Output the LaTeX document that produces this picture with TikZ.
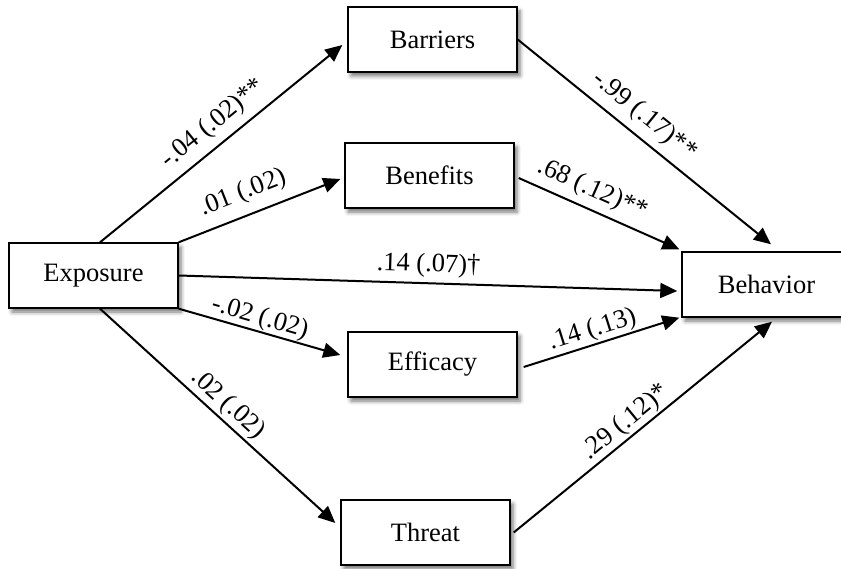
\documentclass[tikz,border=0pt]{standalone}
\usepackage{fontspec}
\setmainfont{Liberation Serif}
\usetikzlibrary{arrows.meta,shadows.blur}
\begin{document}
\begin{tikzpicture}[x=1pt,y=-1pt,
  box/.style={draw,line width=1.4pt,fill=white,minimum width=169pt,minimum height=65pt,inner sep=0pt,
    font=\fontsize{26.5}{30}\selectfont,
    blur shadow={shadow xshift=3pt,shadow yshift=-4pt,shadow blur radius=4pt,shadow opacity=55}},
  arr/.style={line width=2pt,-{Triangle[length=17pt,width=15pt]}},
  lab/.style={sloped,font=\fontsize{26.5}{30}\selectfont,inner sep=0pt,text depth=0pt}
]
\useasboundingbox (0,0) rectangle (841,569);
\node[box] (expo) at (93.5,275.5) {Exposure};
\node[box] (bar) at (432.5,39.5) {Barriers};
\node[box] (ben) at (429.5,175.5) {Benefits};
\node[box] (eff) at (432.5,364.5) {Efficacy};
\node[box] (thr) at (425.5,532.5) {Threat};
\node[box] (beh) at (766.5,284.5) {Behavior};

\draw[arr] ([xshift=6.5pt]expo.north) -- node[lab,pos=0.52,above=13pt]{-.04 (.02)**} ([xshift=-5pt,yshift=-5.5pt]bar.west);
\draw[arr] (expo.north east) -- node[lab,pos=0.45,above=15pt]{.01 (.02)} ([xshift=-4pt,yshift=-3.5pt]ben.west);
\draw[arr] (expo.east) -- node[lab,pos=0.5,above=10.5pt]{.14 (.07)†} ([xshift=-4pt,yshift=-6.5pt]beh.west);
\draw[arr] (expo.south east) -- node[lab,pos=0.48,above=6pt]{-.02 (.02)} ([xshift=-7pt,yshift=9.5pt]eff.west);
\draw[arr] ([xshift=6.5pt]expo.south) -- node[lab,pos=0.5,above=8pt]{.02 (.02)} ([xshift=-5pt,yshift=9.5pt]thr.west);
\draw[arr] (bar.east) -- node[lab,pos=0.45,above=13pt]{-.99 (.17)**} ([xshift=4.5pt,yshift=7pt]beh.north);
\draw[arr] ([xshift=4pt,yshift=-2.5pt]ben.east) -- node[lab,pos=0.41,above=12pt]{.68 (.12)**} ([xshift=-2pt,yshift=2pt]beh.north west);
\draw[arr] ([xshift=6pt,yshift=-2.5pt]eff.east) -- node[lab,pos=0.47,above=7pt]{.14 (.13)} ([xshift=-2pt]beh.south west);
\draw[arr] ([xshift=3pt]thr.east) -- node[lab,pos=0.47,above=7pt]{.29 (.12)*} ([xshift=5.5pt,yshift=-4pt]beh.south);
\end{tikzpicture}
\end{document}
